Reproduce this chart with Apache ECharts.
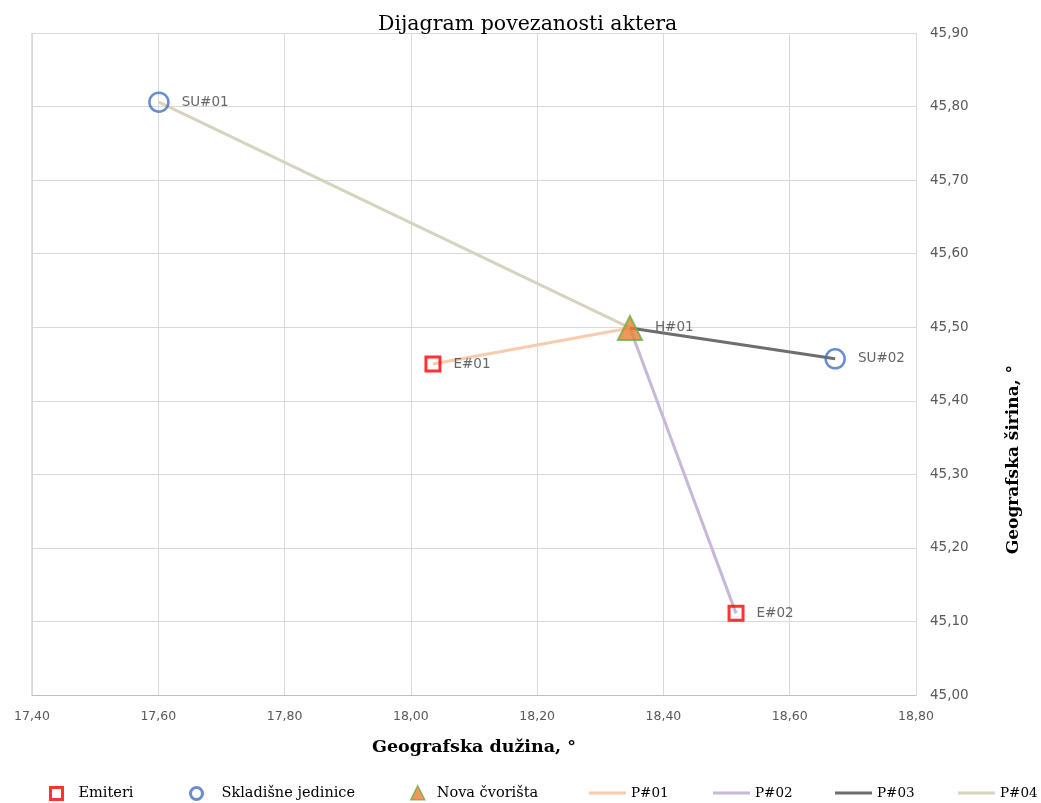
<!DOCTYPE html>
<html><head><meta charset="utf-8">
<script src="https://cdn.jsdelivr.net/npm/echarts@6/dist/echarts.min.js"></script>
<style>html,body{margin:0;padding:0;background:#fff}#c{width:1041px;height:803px}</style>
</head><body><div id="c"></div>
<script>
// Actors: [longitude, latitude, label]
const emiteri = [[18.035, 45.450, 'E#01'], [18.515, 45.111, 'E#02']];
const skladisne = [[17.601, 45.806, 'SU#01'], [18.672, 45.457, 'SU#02']];
const cvorista = [[18.347, 45.499, 'H#01']];
// Connections (pipelines)
const p01 = [[18.035, 45.450], [18.347, 45.499]];
const p02 = [[18.347, 45.499], [18.515, 45.111]];
const p03 = [[18.347, 45.499], [18.672, 45.457]];
const p04 = [[17.601, 45.806], [18.347, 45.499]];

const fmt = v => v.toFixed(2).replace('.', ',');
const serif = "'DejaVu Serif', 'Liberation Serif', serif";
const sans = "'DejaVu Sans', sans-serif";
const lbl = {show: true, position: 'right', distance: 12, formatter: p => p.data[2],
  color: '#404040', fontSize: 13.5, fontFamily: sans};
const lineSeries = (name, data, color) => ({name, type: 'line', data, symbol: 'none',
  lineStyle: {color, width: 3}, itemStyle: {color}, z: 2, silent: true});
const legText = {fontFamily: serif, fontSize: 14.5, color: '#000'};
const markLegend = (name, left, padLeft, size, bw) => ({left, top: 781 + (12 - size) / 2,
  itemWidth: size, itemHeight: size, itemStyle: {borderWidth: bw},
  textStyle: Object.assign({}, legText, {padding: [0, 0, 0, padLeft - (size - 12)]}), data: [name]});
const lineLegend = (name, left) => ({left, top: 781, itemWidth: 37, itemHeight: 3,
  textStyle: Object.assign({}, legText, {fontSize: 13.5}), data: [{name, icon: 'rect'}]});

const chart = echarts.init(document.getElementById('c'));
chart.setOption({
  animation: false,
  title: {text: 'Dijagram povezanosti aktera', left: 373, top: 9,
    textStyle: {fontFamily: serif, fontWeight: 'normal', fontSize: 20.5, color: '#000'}},
  grid: {left: 32, right: 125, top: 33, bottom: 108},
  xAxis: {type: 'value', min: 17.4, max: 18.8, interval: 0.2,
    name: 'Geografska dužina, °', nameLocation: 'middle', nameGap: 43,
    nameTextStyle: {fontFamily: serif, fontWeight: 'bold', fontSize: 17.5, color: '#000'},
    axisLine: {show: true, lineStyle: {color: '#bfbfbf'}}, axisTick: {show: false},
    axisLabel: {formatter: fmt, margin: 15, color: '#595959', fontSize: 12.5, fontFamily: sans},
    splitLine: {show: true, lineStyle: {color: '#d9d9d9'}}},
  yAxis: {type: 'value', position: 'right', min: 45.0, max: 45.9, interval: 0.1,
    axisLine: {show: false}, axisTick: {show: false},
    axisLabel: {formatter: fmt, margin: 14, color: '#595959', fontSize: 13.5, fontFamily: sans},
    splitLine: {show: true, lineStyle: {color: '#d9d9d9'}}},
  graphic: [{type: 'text', left: 1005, top: 365, rotation: Math.PI / 2,
    style: {text: 'Geografska širina, °', fontFamily: serif, fontWeight: 'bold', fontSize: 17, fill: '#000'}},
    {type: 'line', shape: {x1: 32, y1: 33, x2: 32, y2: 695}, style: {stroke: '#bfbfbf', lineWidth: 1}}],
  legend: [markLegend('Emiteri', 44, 11, 12, 3), markLegend('Skladišne jedinice', 184, 14, 12, 3),
    markLegend('Nova čvorišta', 405, 9, 14, 1.5),
    lineLegend('P#01', 584), lineLegend('P#02', 708), lineLegend('P#03', 830), lineLegend('P#04', 953)],
  series: [
    lineSeries('P#01', p01, '#F8CBAD'),
    lineSeries('P#02', p02, '#C7B8DA'),
    lineSeries('P#03', p03, '#6E6E6E'),
    lineSeries('P#04', p04, '#D6D3BE'),
    {name: 'Emiteri', type: 'scatter', data: emiteri, symbol: 'rect', symbolSize: 14, z: 5,
      itemStyle: {color: 'rgba(255,255,255,0)', borderColor: '#FF0000', borderWidth: 3}, label: lbl},
    {name: 'Skladišne jedinice', type: 'scatter', data: skladisne, symbol: 'circle', symbolSize: 19, z: 5,
      itemStyle: {color: 'rgba(255,255,255,0)', borderColor: '#4472C4', borderWidth: 2.5}, label: lbl},
    {name: 'Nova čvorišta', type: 'scatter', data: cvorista, symbol: 'triangle', symbolSize: 24, z: 5,
      itemStyle: {color: '#ED7D31', borderColor: '#70AD47', borderWidth: 2}, label: lbl}
  ]
});
</script></body></html>
